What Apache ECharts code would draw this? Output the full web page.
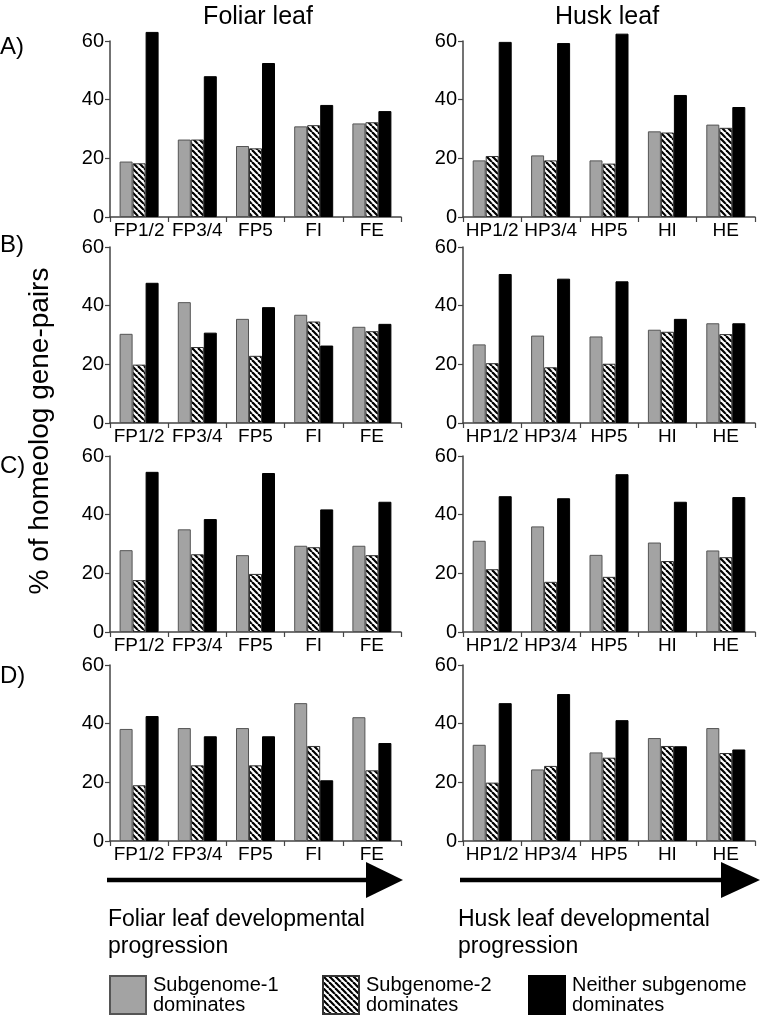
<!DOCTYPE html>
<html><head><meta charset="utf-8">
<script src="https://cdn.jsdelivr.net/npm/echarts/dist/echarts.min.js"></script>
<style>html,body{margin:0;padding:0;background:#fff}#c{width:761px;height:1017px}</style>
</head><body><div id="c"></div><script>
// ---- data ----
const foliarCats = ['FP1/2', 'FP3/4', 'FP5', 'FI', 'FE'];
const huskCats = ['HP1/2', 'HP3/4', 'HP5', 'HI', 'HE'];
const panelLetters = ['A)', 'B)', 'C)', 'D)'];
const seriesNames = ['Subgenome-1\ndominates', 'Subgenome-2\ndominates', 'Neither subgenome\ndominates'];
const yTicks = [0, 20, 40, 60];

const A_foliar_sub1 = [18.9, 26.4, 24.2, 30.9, 31.9];
const A_foliar_sub2 = [18.3, 26.4, 23.4, 31.3, 32.3];
const A_foliar_neither = [63.1, 48.0, 52.5, 38.2, 36.1];
const A_husk_sub1 = [19.3, 21.0, 19.3, 29.2, 31.5];
const A_husk_sub2 = [20.8, 19.3, 18.2, 28.8, 30.4];
const A_husk_neither = [59.7, 59.3, 62.5, 41.6, 37.5];

const B_foliar_sub1 = [30.4, 41.2, 35.5, 36.9, 32.8];
const B_foliar_sub2 = [19.9, 25.9, 22.9, 34.6, 31.3];
const B_foliar_neither = [47.8, 30.8, 39.5, 26.4, 33.8];
const B_husk_sub1 = [26.8, 29.8, 29.5, 31.8, 34.0];
const B_husk_sub2 = [20.4, 19.0, 20.2, 31.1, 30.3];
const B_husk_neither = [50.8, 49.2, 48.3, 35.5, 34.0];

const C_foliar_sub1 = [27.9, 35.0, 26.2, 29.4, 29.4];
const C_foliar_sub2 = [17.7, 26.5, 19.8, 28.9, 26.2];
const C_foliar_neither = [54.6, 38.5, 54.2, 41.8, 44.4];
const C_husk_sub1 = [31.1, 36.0, 26.3, 30.5, 27.8];
const C_husk_sub2 = [21.4, 17.1, 18.8, 24.2, 25.5];
const C_husk_neither = [46.3, 45.6, 53.8, 44.4, 46.0];

const D_foliar_sub1 = [38.2, 38.5, 38.5, 47.0, 42.2];
const D_foliar_sub2 = [19.0, 25.8, 25.8, 32.4, 24.1];
const D_foliar_neither = [42.6, 35.7, 35.7, 20.7, 33.4];
const D_husk_sub1 = [32.8, 24.4, 30.2, 35.1, 38.5];
const D_husk_sub2 = [19.9, 25.6, 28.4, 32.4, 30.0];
const D_husk_neither = [47.0, 50.1, 41.2, 32.3, 31.2];

// ---- assembly ----
const panelData = [
  [[A_foliar_sub1, A_foliar_sub2, A_foliar_neither], [A_husk_sub1, A_husk_sub2, A_husk_neither]],
  [[B_foliar_sub1, B_foliar_sub2, B_foliar_neither], [B_husk_sub1, B_husk_sub2, B_husk_neither]],
  [[C_foliar_sub1, C_foliar_sub2, C_foliar_neither], [C_husk_sub1, C_husk_sub2, C_husk_neither]],
  [[D_foliar_sub1, D_foliar_sub2, D_foliar_neither], [D_husk_sub1, D_husk_sub2, D_husk_neither]]
];

const FONT = 'Liberation Sans, Arial, Helvetica, sans-serif';
const gridTops = [41, 247, 456, 665];
const gridH = 176;

// hatch pattern
const pc = document.createElement('canvas');
pc.width = 6; pc.height = 6;
const pctx = pc.getContext('2d');
pctx.fillStyle = '#fff'; pctx.fillRect(0, 0, 6, 6);
pctx.strokeStyle = '#000'; pctx.lineWidth = 2.2;
for (const k of [-6, 0, 6]) { pctx.beginPath(); pctx.moveTo(k, 0); pctx.lineTo(k + 6, 6); pctx.stroke(); }
const hatch = { image: pc, repeat: 'repeat' };

const styles = [
  { color: '#a3a3a3', borderColor: '#555', borderWidth: 1 },
  { color: hatch, borderColor: '#333', borderWidth: 1 },
  { color: '#000', borderColor: '#000', borderWidth: 1 }
];

const grids = [], xAxes = [], yAxes = [], series = [];
for (let p = 0; p < 4; p++) {
  for (let s = 0; s < 2; s++) {
    const idx = p * 2 + s;
    grids.push({ left: s ? 463 : 110, top: gridTops[p], width: s ? 292 : 291, height: gridH });
    xAxes.push({
      type: 'category', gridIndex: idx, data: s ? huskCats : foliarCats,
      axisLine: { lineStyle: { color: '#444', width: 1.5 } },
      axisTick: { show: true, length: 5, lineStyle: { color: '#444', width: 1.2 } },
      axisLabel: { color: '#000', fontSize: 19, margin: 4, fontFamily: FONT, interval: 0 }
    });
    yAxes.push({
      type: 'value', gridIndex: idx, min: yTicks[0], max: yTicks[yTicks.length - 1], interval: yTicks[1] - yTicks[0],
      splitLine: { show: false },
      axisLine: { show: true, lineStyle: { color: '#444', width: 1.5 } },
      axisTick: { show: true, length: 5, lineStyle: { color: '#444', width: 1.2 } },
      axisLabel: { color: '#000', fontSize: 20, margin: 6, fontFamily: FONT }
    });
    for (let k = 0; k < 3; k++) {
      series.push({
        type: 'bar', name: seriesNames[k], xAxisIndex: idx, yAxisIndex: idx,
        data: panelData[p][s][k], barWidth: 13, barGap: '0%', clip: false,
        itemStyle: styles[k], emphasis: { disabled: true }, animation: false
      });
    }
  }
}

const graphics = [];
function txt(x, y, text, size, opts) {
  graphics.push(Object.assign({ type: 'text', x: x, y: y,
    style: Object.assign({ text: text, font: size + 'px ' + FONT, fill: '#000' }, (opts && opts.style) || {}) },
    opts && opts.rotation ? { rotation: opts.rotation } : {}));
}
txt(258, 17, 'Foliar leaf', 25, { style: { textAlign: 'center', textVerticalAlign: 'middle' } });
txt(607, 17, 'Husk leaf', 25, { style: { textAlign: 'center', textVerticalAlign: 'middle' } });
const letterY = [47, 245, 466, 676];
panelLetters.forEach((l, i) => txt(0, letterY[i], l, 24, { style: { textAlign: 'left', textVerticalAlign: 'middle' } }));
txt(40, 431, '% of homeolog gene-pairs', 28, { rotation: Math.PI / 2, style: { textAlign: 'center', textVerticalAlign: 'middle' } });

// arrows
graphics.push({ type: 'line', shape: { x1: 107, y1: 880, x2: 372, y2: 880 }, style: { stroke: '#000', lineWidth: 4.5 } });
graphics.push({ type: 'polygon', shape: { points: [[366, 862], [403, 880], [366, 898]] }, style: { fill: '#000' } });
graphics.push({ type: 'line', shape: { x1: 460, y1: 880, x2: 725, y2: 880 }, style: { stroke: '#000', lineWidth: 4.5 } });
graphics.push({ type: 'polygon', shape: { points: [[721, 862], [760, 880], [721, 898]] }, style: { fill: '#000' } });
txt(108, 920, 'Foliar leaf developmental', 23, { style: { textAlign: 'left', textVerticalAlign: 'middle' } });
txt(108, 947, 'progression', 23, { style: { textAlign: 'left', textVerticalAlign: 'middle' } });
txt(458, 920, 'Husk leaf developmental', 23, { style: { textAlign: 'left', textVerticalAlign: 'middle' } });
txt(458, 947, 'progression', 23, { style: { textAlign: 'left', textVerticalAlign: 'middle' } });

const legendLefts = [109, 322, 528];
const legends = seriesNames.map((n, i) => ({
  data: [n], left: legendLefts[i], top: 975, padding: 0, itemWidth: 36, itemHeight: 38, itemGap: 0,
  selectedMode: false, icon: 'rect',
  textStyle: { fontSize: 20, lineHeight: 20, color: '#000', fontFamily: FONT, padding: [0, 0, 0, 2] }
}));

const chart = echarts.init(document.getElementById('c'), null, { renderer: 'canvas' });
chart.setOption({
  animation: false,
  backgroundColor: '#fff',
  textStyle: { fontFamily: FONT },
  grid: grids, xAxis: xAxes, yAxis: yAxes, series: series,
  legend: legends, graphic: graphics
});
</script></body></html>
